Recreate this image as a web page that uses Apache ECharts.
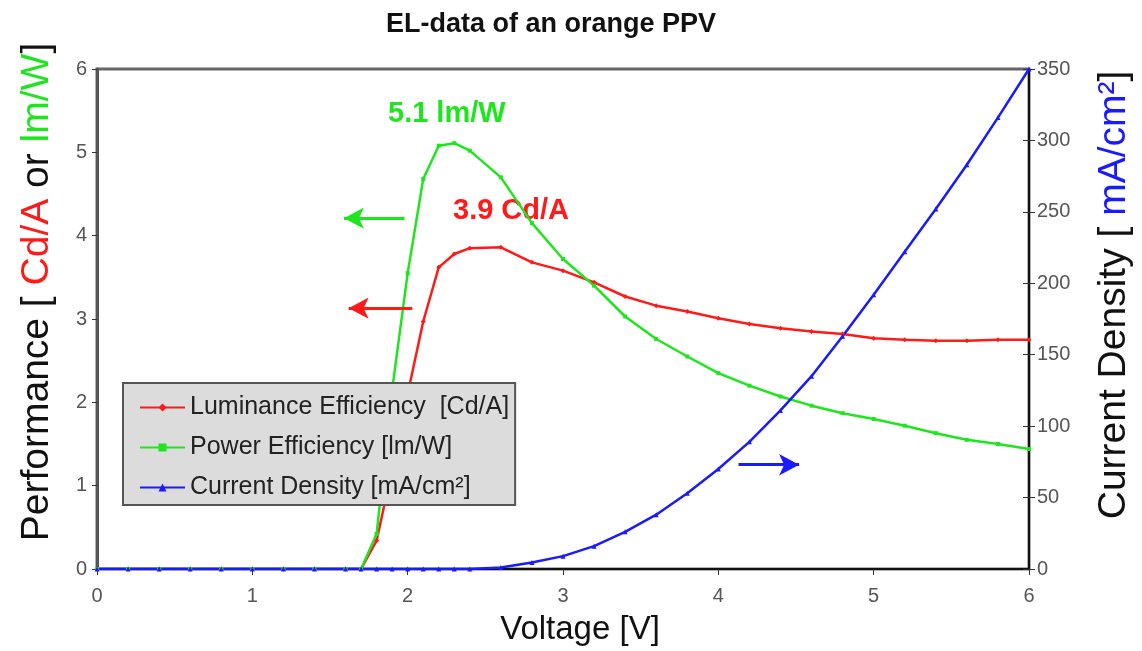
<!DOCTYPE html>
<html>
<head>
<meta charset="utf-8">
<script src="https://cdn.jsdelivr.net/npm/echarts@6/dist/echarts.min.js"></script>
<style>html,body{margin:0;padding:0;background:#fff;}#c{width:1142px;height:651px;}</style>
</head>
<body>
<div id="c"></div>
<script>
const voltage = [0,0.2,0.4,0.6,0.8,1.0,1.2,1.4,1.6,1.7,1.8,1.9,2.0,2.1,2.2,2.3,2.4,2.6,2.8,3.0,3.2,3.4,3.6,3.8,4.0,4.2,4.4,4.6,4.8,5.0,5.2,5.4,5.6,5.8,6.0];
const luminanceEff = [0,0,0,0,0,0,0,0,0,0,0.34,1.2,2.1,2.97,3.62,3.78,3.85,3.86,3.68,3.58,3.44,3.27,3.16,3.09,3.01,2.94,2.89,2.85,2.82,2.77,2.75,2.74,2.74,2.75,2.75];
const powerEff = [0,0,0,0,0,0,0,0,0,0,0.42,2.15,3.55,4.68,5.08,5.11,5.02,4.7,4.15,3.72,3.4,3.03,2.76,2.55,2.35,2.2,2.07,1.96,1.87,1.8,1.72,1.63,1.55,1.5,1.44];
const currentDensity = [0,0,0,0,0,0,0,0,0,0,0,0,0,0,0,0,0,1,4.5,9,16,26,38,53,70,89,111,135,163,192,222,252,283,316,350];
const seriesNames = ['Luminance Efficiency  [Cd/A]','Power Efficiency [lm/W]','Current Density [mA/cm²]'];

const FONT = '"Liberation Sans", Arial, sans-serif';
const RED = '#ff1a1a', GREEN = '#1ee61e', BLUE = '#1a1aff';
const pairs = arr => voltage.map((v,i)=>[v,arr[i]]);

const chart = echarts.init(document.getElementById('c'), null, {renderer:'canvas'});
chart.setOption({
  animation: false,
  backgroundColor: '#fff',
  title: {
    text: 'EL-data of an orange PPV',
    left: 381, top: 6,
    textStyle: {fontFamily: FONT, fontSize: 27, fontWeight: 'bold', color: '#111'}
  },
  grid: {left: 97, right: 112, top: 69, bottom: 78, show: true, borderColor: '#666', borderWidth: 3},
  legend: {
    orient: 'vertical', left: 123, top: 383,
    backgroundColor: '#dcdcdc', borderColor: '#555', borderWidth: 2,
    padding: [12, 6, 5, 16], itemGap: 15, itemWidth: 45, itemHeight: 10,
    textStyle: {fontFamily: FONT, fontSize: 25, color: '#222'},
    data: seriesNames
  },
  xAxis: {
    type: 'value', min: 0, max: 6, interval: 1,
    name: 'Voltage [V]', nameLocation: 'middle', nameGap: 44,
    nameTextStyle: {fontFamily: FONT, fontSize: 33, color: '#111', padding: [0,0,0,34]},
    axisLine: {lineStyle: {color: '#111', width: 2}},
    axisTick: {length: 6, lineStyle: {color: '#333', width: 1}},
    axisLabel: {fontFamily: FONT, fontSize: 20, color: '#555', margin: 17},
    splitLine: {show: false}
  },
  yAxis: [{
    type: 'value', min: 0, max: 6, interval: 1, position: 'left',
    name: 'Performance [ {r|Cd/A} or {g|lm/W}]', nameLocation: 'middle', nameGap: 40, nameRotate: 90,
    nameTextStyle: {fontFamily: FONT, fontSize: 39, color: '#111', padding: [0,0,0,54],
      rich: {r: {fontFamily: FONT, fontSize: 39, color: RED}, g: {fontFamily: FONT, fontSize: 39, color: GREEN}}},
    axisLine: {show: true, lineStyle: {color: '#555', width: 3}},
    axisTick: {show: true, length: 5, lineStyle: {color: '#333'}},
    axisLabel: {fontFamily: FONT, fontSize: 20, color: '#555', margin: 10},
    splitLine: {show: false}
  }, {
    type: 'value', min: 0, max: 350, interval: 50, position: 'right',
    name: 'Current Density [ {b|mA/cm²}]', nameLocation: 'middle', nameGap: 66, nameRotate: 90,
    nameTextStyle: {fontFamily: FONT, fontSize: 39, color: '#111', padding: [0,0,0,48],
      rich: {b: {fontFamily: FONT, fontSize: 39, color: BLUE}}},
    axisLine: {show: true, lineStyle: {color: '#111', width: 2}},
    axisTick: {show: true, length: 6, lineStyle: {color: '#333'}},
    axisLabel: {fontFamily: FONT, fontSize: 20, color: '#555', margin: 8},
    splitLine: {show: false}
  }, {
    type: 'value', min: 0, max: 350, interval: 50, position: 'right',
    axisLine: {show: false},
    axisTick: {show: true, inside: true, length: 6, lineStyle: {color: '#333'}},
    axisLabel: {show: false},
    splitLine: {show: false}
  }],
  series: [{
    name: seriesNames[0], type: 'line', yAxisIndex: 0, data: pairs(luminanceEff),
    symbol: 'diamond', symbolSize: 5, showSymbol: true, smooth: false,
    lineStyle: {color: RED, width: 2.5}, itemStyle: {color: RED},
    markLine: {silent: true, symbol: ['none','arrow'], symbolSize: [16, 20], label: {show: false},
      lineStyle: {color: RED, width: 3, type: 'solid'},
      data: [[{coord: [2.03, 3.13]}, {coord: [1.62, 3.13]}]]}
  }, {
    name: seriesNames[1], type: 'line', yAxisIndex: 0, data: pairs(powerEff),
    symbol: 'rect', symbolSize: 4, showSymbol: true,
    lineStyle: {color: GREEN, width: 2.5}, itemStyle: {color: GREEN},
    markLine: {silent: true, symbol: ['none','arrow'], symbolSize: [16, 20], label: {show: false},
      lineStyle: {color: GREEN, width: 3, type: 'solid'},
      data: [[{coord: [1.98, 4.21]}, {coord: [1.59, 4.21]}]]}
  }, {
    name: seriesNames[2], type: 'line', yAxisIndex: 1, data: pairs(currentDensity),
    symbol: 'triangle', symbolSize: 5, showSymbol: true,
    lineStyle: {color: BLUE, width: 2.5}, itemStyle: {color: BLUE},
    markLine: {silent: true, symbol: ['none','arrow'], symbolSize: [16, 20], label: {show: false},
      lineStyle: {color: BLUE, width: 3, type: 'solid'},
      data: [[{coord: [4.13, 73]}, {coord: [4.52, 73]}]]}
  }],
  graphic: [
    {type: 'text', left: 388, top: 99, style: {text: '5.1 lm/W', fill: GREEN, font: 'bold 29px ' + FONT}},
    {type: 'text', left: 453, top: 196, style: {text: '3.9 Cd/A', fill: RED, font: 'bold 29px ' + FONT}}
  ]
});
</script>
</body>
</html>
